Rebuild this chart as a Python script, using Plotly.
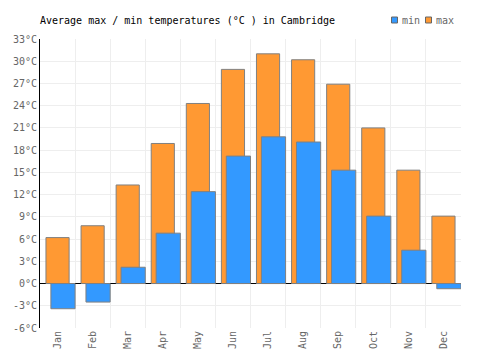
import plotly.graph_objects as go

months = ["Jan", "Feb", "Mar", "Apr", "May", "Jun", "Jul", "Aug", "Sep", "Oct", "Nov", "Dec"]
t_max = [6.2, 7.8, 13.3, 18.9, 24.3, 28.9, 31.0, 30.2, 26.9, 21.0, 15.3, 9.1]
t_min = [-3.4, -2.5, 2.2, 6.8, 12.4, 17.2, 19.8, 19.1, 15.3, 9.1, 4.5, -0.7]
y_ticks = [-6, -3, 0, 3, 6, 9, 12, 15, 18, 21, 24, 27, 30, 33]
y_ticktext = [f"{v}°C" for v in y_ticks]
series_names = ["min", "max"]
series_colors = ["#3399ff", "#ff9933"]

FONT = "DejaVu Sans Mono"
W, H = 500, 350
ML, MR, MT, MB = 40, 39, 39, 22
PW, PH = W - ML - MR, H - MT - MB

def px_x(px):
    return (px - ML) / PW

def px_y(py):
    return (H - MB - py) / PH

fig = go.Figure()
fig.add_trace(go.Bar(
    x=months, y=t_max, name="max",
    offset=-0.33, width=0.66,
    marker=dict(color=series_colors[1], line=dict(color="#808080", width=1)),
))
fig.add_trace(go.Bar(
    x=months, y=t_min, name="min",
    offset=-0.19, width=0.69,
    marker=dict(color=series_colors[0], line=dict(color="#808080", width=1)),
))

# compact legend (small squares + labels) in the top-right corner
legend_sq_left = [391.5, 425.5]
shapes = []
annotations = []
for name, col, sx in zip(series_names, series_colors, legend_sq_left):
    shapes.append(dict(type="rect", xref="paper", yref="paper",
                       x0=px_x(sx), x1=px_x(sx + 6), y0=px_y(23), y1=px_y(17),
                       fillcolor=col, line=dict(color="#666666", width=1)))
    annotations.append(dict(text=name, xref="paper", yref="paper",
                            x=px_x(sx + 8.5), y=px_y(20), xanchor="left", yanchor="middle",
                            showarrow=False,
                            font=dict(family=FONT, size=10, color="#666666")))

fig.update_layout(
    width=W, height=H,
    margin=dict(l=ML, r=MR, t=MT, b=MB),
    barmode="overlay",
    paper_bgcolor="white", plot_bgcolor="white",
    font=dict(family=FONT, size=10, color="#666666"),
    title=dict(text="Average max / min temperatures (°C ) in Cambridge",
               font=dict(family=FONT, size=10, color="#000000"),
               x=ML / W, xanchor="left", y=1 - 20 / H, yanchor="middle"),
    showlegend=False,
    shapes=shapes,
    annotations=annotations,
)
fig.update_xaxes(
    type="category", tickson="boundaries", showgrid=True, gridcolor="#eeeeee", gridwidth=1,
    tickangle=-90, ticks="", automargin=False, showline=False,
    tickfont=dict(family=FONT, size=10, color="#666666"),
)
fig.update_yaxes(
    range=[-6, 33], tickvals=y_ticks, ticktext=y_ticktext,
    showgrid=True, gridcolor="#eeeeee", gridwidth=1,
    zeroline=True, zerolinecolor="#000000", zerolinewidth=1,
    showline=True, linecolor="#000000", linewidth=1,
    ticks="", automargin=False,
    tickfont=dict(family=FONT, size=10, color="#666666"),
)
fig.write_html("out.html")
